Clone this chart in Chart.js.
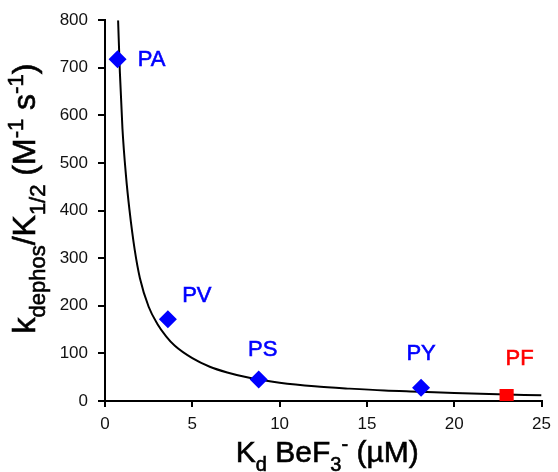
<!DOCTYPE html>
<html>
<head>
<meta charset="utf-8">
<script src="https://cdn.jsdelivr.net/npm/chart.js@4/dist/chart.umd.min.js"></script>
<style>
  html, body { margin: 0; padding: 0; background: #fff; }
  #wrap { width: 558px; height: 472px; }
</style>
</head>
<body>
<div id="wrap"><canvas id="kdChart" width="558" height="472"></canvas></div>
<script>
// mutants, Kd BeF3- (uM) and kdephos/K1/2 (M-1 s-1)
var mutants = ['PA', 'PV', 'PS', 'PY'];
var mutantKd = [0.72, 3.6, 8.8, 18.1];
var mutantRate = [718, 172, 45, 28];

var pfLabel = ['PF'];
var pfKd = [23.0];
var pfRate = [10.5];

// fitted curve, points
var curveKd = [0.75, 0.85, 1.0, 1.2, 1.4, 1.7, 2.0, 2.5, 3.0, 3.5, 4, 5, 6, 7, 8, 9, 10, 12, 14, 16, 18, 20, 22, 25];
var curveRate = [800, 692, 572, 474, 402, 318, 258, 198, 162, 136, 116, 90, 72, 60, 51, 44, 38.5, 31, 26, 22, 19.5, 16.8, 14.6, 12];

var xTicks = [0, 5, 10, 15, 20, 25];
var yTicks = [0, 100, 200, 300, 400, 500, 600, 700, 800];

function toXY(xs, ys) {
  return xs.map(function (x, i) { return { x: x, y: ys[i] }; });
}

var FAMILY = '"Liberation Sans", Arial, sans-serif';

// draws text with sub/superscript runs, centred on x
function richText(ctx, parts, x, y, size) {
  var small = Math.round(size * 0.68);
  var w = 0;
  parts.forEach(function (p) {
    ctx.font = (p.s ? small : size) + 'px ' + FAMILY;
    w += ctx.measureText(p.t).width;
  });
  var cx = x - w / 2;
  parts.forEach(function (p) {
    ctx.font = (p.s ? small : size) + 'px ' + FAMILY;
    var dy = p.s === 'sub' ? size * 0.3 : (p.s === 'sup' ? -size * 0.38 : 0);
    ctx.fillText(p.t, cx, y + dy);
    ctx.strokeText(p.t, cx, y + dy);
    cx += ctx.measureText(p.t).width;
  });
}

var axisTitles = {
  id: 'axisTitles',
  afterDraw: function (chart) {
    var ctx = chart.ctx, a = chart.chartArea;
    ctx.save();
    ctx.fillStyle = '#000';
    ctx.strokeStyle = '#000';
    ctx.lineWidth = 0.6;
    ctx.textBaseline = 'alphabetic';
    ctx.textAlign = 'left';
    richText(ctx, [
      { t: 'K' }, { t: 'd', s: 'sub' }, { t: ' BeF' }, { t: '3', s: 'sub' },
      { t: '-', s: 'sup' }, { t: ' (\u00b5M)' }
    ], (a.left + a.right) / 2 + 4, 462, 30);
    ctx.translate(35, (a.top + a.bottom) / 2 - 12);
    ctx.rotate(-Math.PI / 2);
    richText(ctx, [
      { t: 'k' }, { t: 'dephos', s: 'sub' }, { t: '/K' }, { t: '1/2', s: 'sub' },
      { t: ' (M' }, { t: '-1', s: 'sup' }, { t: ' s' }, { t: '-1', s: 'sup' }, { t: ')' }
    ], 0, 0, 32);
    ctx.restore();
  }
};

// text offsets of the point labels, in px from the marker
var labelOffsets = { PA: [34, 1], PV: [29, -23], PS: [4, -30], PY: [0, -34], PF: [13, -37] };

var pointLabels = {
  id: 'pointLabels',
  afterDatasetsDraw: function (chart) {
    var ctx = chart.ctx;
    ctx.save();
    ctx.font = '22px ' + FAMILY;
    ctx.textAlign = 'center';
    ctx.textBaseline = 'middle';
    ctx.lineWidth = 0.6;
    [[0, mutants, '#0000ff'], [1, pfLabel, '#ff0000']].forEach(function (d) {
      var meta = chart.getDatasetMeta(d[0]);
      meta.data.forEach(function (pt, i) {
        var name = d[1][i], off = labelOffsets[name];
        ctx.fillStyle = d[2];
        ctx.strokeStyle = d[2];
        ctx.fillText(name, pt.x + off[0], pt.y + off[1]);
        ctx.strokeText(name, pt.x + off[0], pt.y + off[1]);
      });
    });
    ctx.restore();
  }
};

new Chart(document.getElementById('kdChart').getContext('2d'), {
  type: 'scatter',
  data: {
    datasets: [{
      data: toXY(mutantKd, mutantRate),
      pointStyle: 'rectRot',
      pointRadius: 9,
      pointHoverRadius: 9,
      backgroundColor: '#0000ff',
      borderColor: '#0000ff',
      borderWidth: 0,
      order: 0
    }, {
      data: toXY(pfKd, pfRate),
      pointStyle: 'rect',
      pointRadius: 10,
      pointHoverRadius: 10,
      backgroundColor: '#ff0000',
      borderColor: '#ff0000',
      borderWidth: 0,
      order: 0
    }, {
      data: toXY(curveKd, curveRate),
      showLine: true,
      borderColor: '#000',
      borderWidth: 2,
      pointRadius: 0,
      cubicInterpolationMode: 'monotone',
      order: 2
    }]
  },
  options: {
    responsive: false,
    animation: false,
    layout: { padding: { top: 20, right: 11, left: 0, bottom: 0 } },
    plugins: { legend: { display: false }, tooltip: { enabled: false } },
    scales: {
      x: {
        type: 'linear',
        min: 0, max: 25,
        afterBuildTicks: function (s) { s.ticks = xTicks.map(function (v) { return { value: v }; }); },
        afterFit: function (s) { s.height = 71; },
        grid: { drawOnChartArea: false, tickLength: 6, color: '#000', lineWidth: 2 },
        border: { color: '#000', width: 2 },
        ticks: { color: '#111', padding: 7, maxRotation: 0, font: { size: 17, family: FAMILY } }
      },
      y: {
        type: 'linear',
        min: 0, max: 800,
        afterBuildTicks: function (s) { s.ticks = yTicks.map(function (v) { return { value: v }; }); },
        afterFit: function (s) { s.width = 105; },
        grid: { drawOnChartArea: false, tickLength: 7, color: '#000', lineWidth: 2 },
        border: { color: '#000', width: 2 },
        ticks: { color: '#111', padding: 10, font: { size: 17, family: FAMILY } }
      }
    }
  },
  plugins: [axisTitles, pointLabels]
});
</script>
</body>
</html>
